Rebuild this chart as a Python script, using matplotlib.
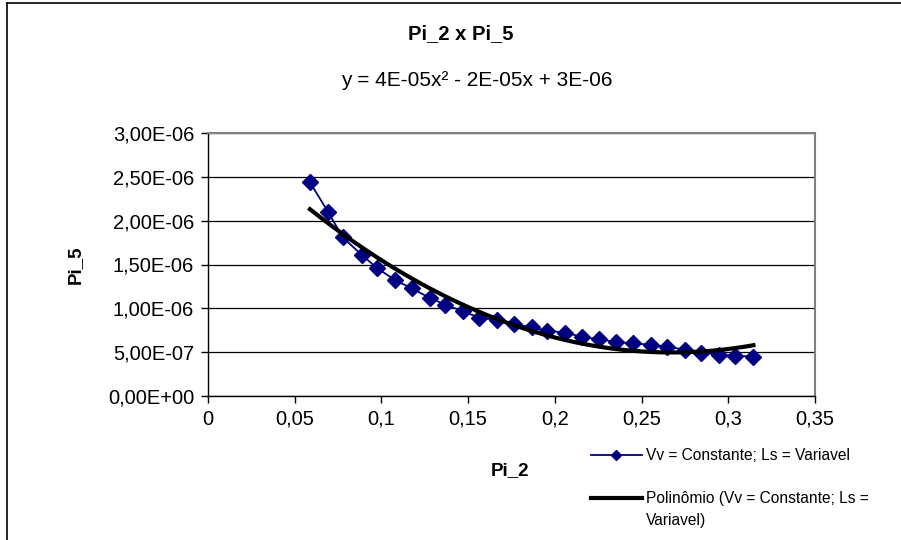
import numpy as np
import matplotlib
matplotlib.use("Agg")
import matplotlib.pyplot as plt
from matplotlib.lines import Line2D
from matplotlib.ticker import FuncFormatter, MultipleLocator

plt.rcParams['font.family'] = ['Liberation Sans', 'DejaVu Sans']

# Series: Vv = Constante; Ls = Variavel
pi_2 = [0.0588, 0.0694, 0.0777, 0.0886, 0.0977, 0.1080, 0.1175, 0.1280, 0.1369,
        0.1470, 0.1565, 0.1669, 0.1765, 0.1867, 0.1957, 0.2059, 0.2155, 0.2257,
        0.2353, 0.2453, 0.2553, 0.2649, 0.2753, 0.2841, 0.2945, 0.3040, 0.3145]
pi_5 = [2.437e-6, 2.094e-6, 1.810e-6, 1.610e-6, 1.456e-6, 1.320e-6, 1.228e-6,
        1.117e-6, 1.041e-6, 0.965e-6, 0.893e-6, 0.867e-6, 0.821e-6, 0.783e-6,
        0.745e-6, 0.722e-6, 0.676e-6, 0.646e-6, 0.616e-6, 0.600e-6, 0.585e-6,
        0.562e-6, 0.528e-6, 0.494e-6, 0.471e-6, 0.460e-6, 0.448e-6]

series_label = "Vv = Constante; Ls = Variavel"
trend_label_lines = ["Polinômio (Vv = Constante; Ls =", "Variavel)"]
title = "Pi_2 x Pi_5"
x_label = "Pi_2"
y_label = "Pi_5"

x = np.array(pi_2)
y = np.array(pi_5)

# Second order polynomial trend line
coef = np.polyfit(x, y, 2)
xf = np.linspace(x.min(), x.max(), 200)
yf = np.polyval(coef, xf)


def sci(v):
    return "{:.0E}".format(abs(v))


eq = "y = {}x² {} {}x + {}".format(
    sci(coef[0]), "-" if coef[1] < 0 else "+", sci(coef[1]), sci(coef[2]))

W, H = 901, 540
fig = plt.figure(figsize=(W / 100, H / 100), dpi=100)
ax = fig.add_axes([208 / W, 1 - 396 / H, (815 - 208) / W, (396 - 133) / H])

ax.plot(x, y, color="#000080", lw=1.3, marker="D", markersize=7.8,
        markeredgecolor="#000080", markerfacecolor="#000080",
        label=series_label, zorder=3)
ax.plot(xf, yf, color="black", lw=3.0, label=trend_label_lines[0], zorder=4)

ax.set_xlim(0, 0.35)
ax.set_ylim(0, 3e-6)
ax.xaxis.set_major_locator(MultipleLocator(0.05))
ax.yaxis.set_major_locator(MultipleLocator(0.5e-6))


def fmt_x(v, pos):
    s = "{:.2f}".format(v).rstrip("0").rstrip(".")
    return s.replace(".", ",")


def fmt_y(v, pos):
    return "{:.2E}".format(v).replace(".", ",")


ax.xaxis.set_major_formatter(FuncFormatter(fmt_x))
ax.yaxis.set_major_formatter(FuncFormatter(fmt_y))

ax.grid(axis="y", color="black", lw=0.9)
ax.set_axisbelow(True)
for side in ("top", "right"):
    ax.spines[side].set_color("#808080")
    ax.spines[side].set_linewidth(1.5)
for side in ("left", "bottom"):
    ax.spines[side].set_color("black")
    ax.spines[side].set_linewidth(1.0)
ax.tick_params(direction="out", length=5, width=1, labelsize=14.5, pad=5)

ax.set_xlabel(x_label, fontsize=13.5, fontweight="bold")
ax.xaxis.set_label_coords(0.4975, -0.25)
ax.set_ylabel(y_label, fontsize=13.5, fontweight="bold")
ax.yaxis.set_label_coords(-0.204, 0.5)

fig.text(461 / W, 1 - 34 / H, title, ha="center", va="center",
         fontsize=14.5, fontweight="bold")
fig.text(477 / W, 1 - 80 / H, eq, ha="center", va="center", fontsize=15)

leg_fs = 11.2
leg = fig.legend(loc="upper left", bbox_to_anchor=(591 / W, 1 - 448 / H),
                 frameon=False, fontsize=leg_fs, handlelength=3.27,
                 handletextpad=0.26, labelspacing=1.81, borderpad=0,
                 borderaxespad=0, markerscale=0.6)

# Continuation line of the trend line entry, aligned under its text
fig.canvas.draw()
t2 = leg.get_texts()[1]
bb = t2.get_window_extent().transformed(fig.transFigure.inverted())
fig.text(bb.x0, bb.y0 - 22 / H, trend_label_lines[1], ha="left",
         va="bottom", fontsize=leg_fs)

# Outer chart frame
fig.add_artist(Line2D([6.5 / W, 6.5 / W], [0, 1 - 3 / H], color="black",
                      lw=1.2, transform=fig.transFigure))
fig.add_artist(Line2D([6.5 / W, 1], [1 - 3 / H, 1 - 3 / H], color="black",
                      lw=1.2, transform=fig.transFigure))

fig.savefig("out.png", dpi=100)
